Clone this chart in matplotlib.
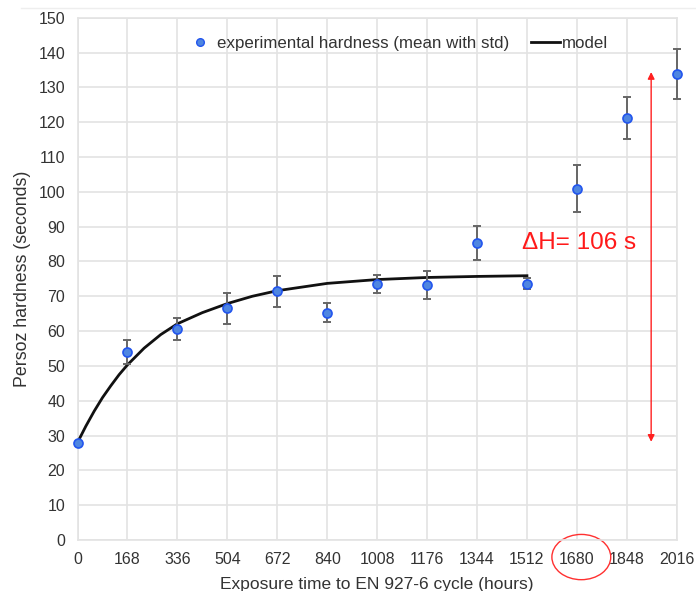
import matplotlib
matplotlib.use("Agg")
import matplotlib.pyplot as plt
from matplotlib.patches import Ellipse
from matplotlib.lines import Line2D

plt.rcParams['font.family'] = ['Liberation Sans', 'DejaVu Sans']

# data
hours = [0, 168, 336, 504, 672, 840, 1008, 1176, 1344, 1512, 1680, 1848, 2016]
hardness = [28.0, 54.0, 60.6, 66.5, 71.5, 65.3, 73.5, 73.2, 85.4, 73.6, 100.9, 121.2, 133.8]
err_low = [0.0, 3.5, 3.1, 4.5, 4.5, 2.6, 2.5, 3.9, 5.0, 1.6, 6.7, 6.1, 7.1]
err_high = [0.0, 3.5, 3.2, 4.5, 4.4, 2.7, 2.5, 4.0, 4.8, 1.6, 6.7, 6.1, 7.1]
model_t = [0, 28, 56, 84, 112, 140, 168, 224, 280, 336, 420, 504, 588, 672, 840, 1008, 1176, 1344, 1512]
model_h = [28.0, 32.7, 37.0, 40.9, 44.3, 47.5, 50.3, 55.1, 59.0, 62.1, 65.3, 67.9, 70.0, 71.6, 73.7, 74.8, 75.4, 75.7, 75.9]
xticks = [0, 168, 336, 504, 672, 840, 1008, 1176, 1344, 1512, 1680, 1848, 2016]
yticks = list(range(0, 151, 10))
delta_low, delta_high, delta_x = 28.2, 134.4, 1930
delta_label = "ΔH= 106 s"

fig = plt.figure(figsize=(6.96, 5.91), dpi=100)
ax = fig.add_axes([0.1114, 0.0863, 0.8609, 0.8837])
ax.set_xlim(0, 2016)
ax.set_ylim(0, 150)
ax.set_xticks(xticks)
ax.set_yticks(yticks)
ax.grid(True, color='#e3e3e3', linewidth=1.2)
ax.set_axisbelow(True)
for s in ax.spines.values():
    s.set_color('#e3e3e3')
    s.set_linewidth(1.2)
ax.tick_params(length=0, labelsize=11.5, labelcolor='#333333', pad=9)

ax.plot(model_t, model_h, color='#111111', linewidth=2.0, zorder=3, clip_on=False,
        solid_joinstyle='round')
ax.errorbar(hours, hardness, yerr=[err_low, err_high], fmt='none', ecolor='#666666',
            elinewidth=1.4, capsize=3, capthick=1.4, zorder=4, clip_on=False)
ax.plot(hours, hardness, 'o', markersize=6.5, markerfacecolor='#4f86e0',
        markeredgecolor='#2255ee', markeredgewidth=1.2, zorder=5, clip_on=False)

ax.annotate('', xy=(delta_x, delta_high), xytext=(delta_x, delta_low),
            arrowprops=dict(arrowstyle='<|-|>', color='#ff2020', lw=1.0,
                            mutation_scale=10, shrinkA=0, shrinkB=0))
ax.text(1688, 85.3, delta_label, color='#ff1a1a', fontsize=17.5, ha='center', va='center')

ax.set_ylabel('Persoz hardness (seconds)', fontsize=12.8, color='#333333', labelpad=5)
fig.text(0.541, 0.011, 'Exposure time to EN 927-6 cycle (hours)', fontsize=12.5,
         color='#333333', ha='center', va='center')

handles = [Line2D([], [], marker='o', linestyle='none', markersize=5.5,
                  markerfacecolor='#4f86e0', markeredgecolor='#2255ee'),
           Line2D([], [], color='#111111', linewidth=2.0)]
ax.legend(handles, ['experimental hardness (mean with std)', 'model'], ncol=2,
          loc='center', bbox_to_anchor=(0.533, 0.95), frameon=False, fontsize=12.2,
          handlelength=1.7, handletextpad=0.15, columnspacing=1.3, labelcolor='#333333')

ell = Ellipse((1695, -4.9), width=198, height=13, transform=ax.transData,
              fill=False, edgecolor='#ff3030', linewidth=1.0, clip_on=False)
ax.add_patch(ell)

fig.add_artist(Line2D([0.03, 1.0], [0.986, 0.986], color='#eeeeee', linewidth=1.0))

fig.savefig('out.png', dpi=100)
